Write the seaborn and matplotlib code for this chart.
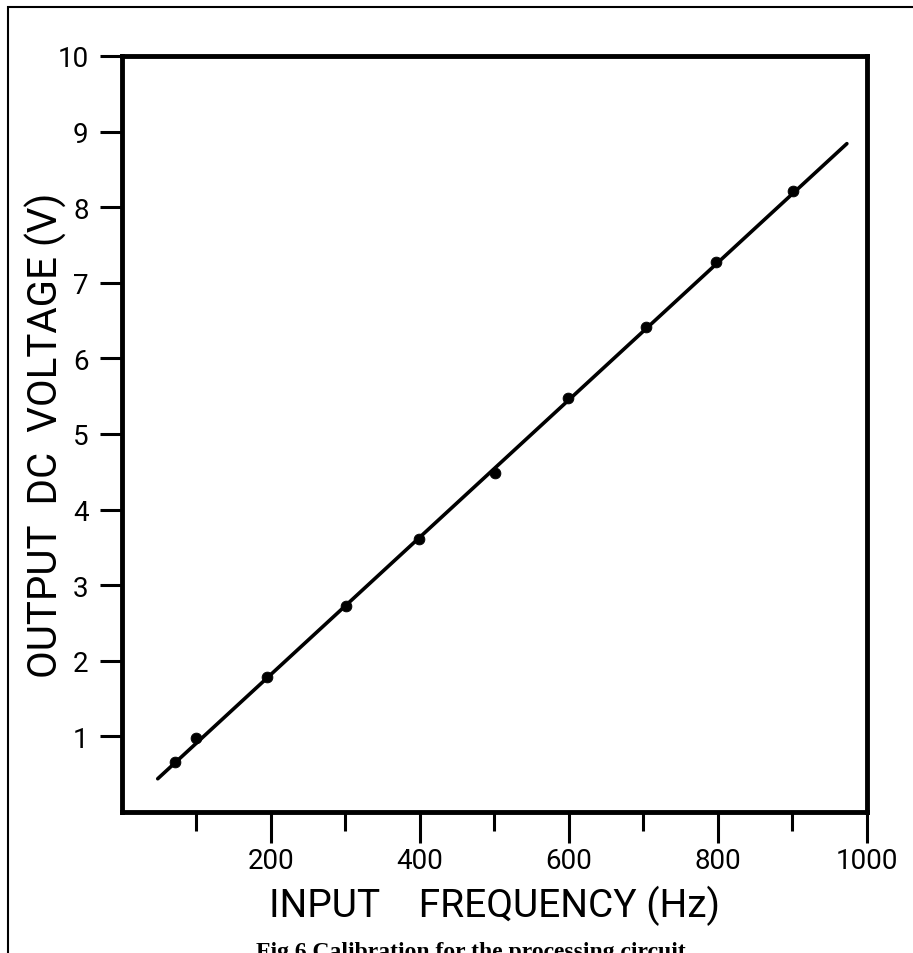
import matplotlib.pyplot as plt
import matplotlib.patches as patches
from matplotlib.ticker import FixedLocator
import seaborn as sns
import pandas as pd

# measured calibration points
freq_hz = [71, 99, 195, 301, 399, 501, 599, 703, 797, 901]
voltage_v = [0.66, 0.98, 1.79, 2.72, 3.61, 4.49, 5.47, 6.42, 7.27, 8.22]

# drawn calibration line (end points)
fit_x = [48, 973]
fit_y = [0.44, 8.84]

x_major = [200, 400, 600, 800, 1000]
x_minor = [100, 300, 500, 700, 900]
y_ticks = [1, 2, 3, 4, 5, 6, 7, 8, 9, 10]

pts = pd.DataFrame({'freq': freq_hz, 'volt': voltage_v})
fit = pd.DataFrame({'freq': fit_x, 'volt': fit_y})

sns.set_style('ticks')
plt.rcParams['font.family'] = ['Roboto', 'DejaVu Sans']
plt.rcParams['text.color'] = 'black'
plt.rcParams['axes.labelcolor'] = 'black'
plt.rcParams['xtick.color'] = 'black'
plt.rcParams['ytick.color'] = 'black'

fig = plt.figure(figsize=(9.13, 9.54), dpi=100)
ax = fig.add_axes([0.1336, 0.1478, 0.816, 0.7925])

sns.lineplot(data=fit, x='freq', y='volt', color='black', linewidth=2.6, ax=ax)
sns.scatterplot(data=pts, x='freq', y='volt', color='black', s=60, edgecolor='black', zorder=3, ax=ax)

ax.set_xlim(0, 1000)
ax.set_ylim(0, 10)
ax.xaxis.set_major_locator(FixedLocator(x_major))
ax.xaxis.set_minor_locator(FixedLocator(x_minor))
ax.yaxis.set_major_locator(FixedLocator(y_ticks))
ax.set_xticklabels([str(v) for v in x_major])
ax.set_yticklabels([str(v) for v in y_ticks])

for s in ax.spines.values():
    s.set_linewidth(3.5)
    s.set_color('black')
    s.set_visible(True)

ax.tick_params(axis='x', which='major', direction='out', length=22, width=2.2, pad=3, labelsize=20)
ax.tick_params(axis='x', which='minor', direction='out', length=14, width=2.2)
ax.tick_params(axis='y', which='major', direction='out', length=16, width=2.2, pad=8, labelsize=20)

ax.set_xlabel('INPUT    FREQUENCY (Hz)', fontsize=28, va='center')
ax.set_ylabel('OUTPUT  DC  VOLTAGE (V)', fontsize=29, va='center')
ax.xaxis.set_label_coords(0.5, -0.123)
ax.yaxis.set_label_coords(-0.102, 0.5)

# outer frame of the scanned page
fig.patches.append(patches.Rectangle((8 / 913, -0.1), 1.2, 1 - 8 / 954 + 0.1,
                                     transform=fig.transFigure, fill=False,
                                     edgecolor='black', linewidth=1.5))

fig.text(0.516, 0.0125, 'Fig 6 Calibration for the processing circuit',
         ha='center', va='top', fontsize=17, fontweight='bold',
         family=['Liberation Serif', 'DejaVu Serif'])

plt.savefig('out.png', dpi=100)
